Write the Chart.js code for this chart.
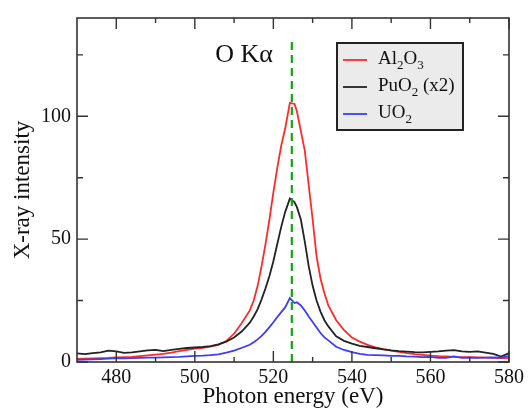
<!DOCTYPE html>
<html>
<head>
<meta charset="utf-8">
<script src="https://cdn.jsdelivr.net/npm/chart.js@4.4.1/dist/chart.umd.min.js"></script>
<style>
html,body{margin:0;padding:0;background:#fff;}
#wrap{width:528px;height:408px;position:relative;}
</style>
</head>
<body>
<div id="wrap"><canvas id="c"></canvas></div>
<script>
// ---- data ----
const energy = [470,472,474,476,478,480,482,484,486,488,490,492,494,496,498,500,502,504,506,508,
  510,512,514,515,516,517,518,519,520,521,522,523,524.2,525.4,526,527,528,529,530,531,532,533,534,
  536,538,540,542,544,546,548,550,552,554,556,558,560,562,564,566,568,570,572,574,576,578,580];
const al2o3 = [1.3,1.4,1.5,1.6,1.7,1.9,2.0,2.1,2.4,2.7,3.0,3.3,3.8,4.4,4.9,5.4,5.8,6.3,7.0,8.5,
  11.5,16,21,25,31,39,48,58,69,79,88,95,105.5,105,102,94,86,72,58,43,34,28,23,
  17,13,10,8.3,7.0,6.0,5.2,4.6,4.1,3.6,3.2,2.9,2.6,2.4,2.3,2.1,2.0,2.0,1.9,1.8,1.7,1.6,1.6];
const puo2x2 = [3.5,3.2,3.6,3.9,4.6,4.3,3.7,3.9,4.3,4.7,4.9,4.4,4.9,5.3,5.7,5.9,6.1,6.5,7.2,8.3,
  10,12.5,16,18.5,21.5,25.5,30,35,41,48,55,61,66.5,65,63,58,49,39,31,25,20.5,17,14.5,
  10.5,8.6,7.5,6.6,6.1,5.6,5.1,4.7,4.4,4.2,4.0,3.9,4.1,4.3,4.6,4.8,4.3,4.1,4.3,3.8,3.3,2.2,3.6];
const uo2 = [0.9,1.0,1.1,1.2,1.4,1.6,1.5,1.6,1.7,1.8,1.8,1.9,2.0,2.1,2.3,2.5,2.6,2.8,3.1,3.8,
  4.6,5.8,7.0,8.0,9.2,10.6,12.3,14.2,16.2,18.3,20.3,22.2,26,24,24.3,23,21,18.5,16.3,14,11.8,10,8.8,
  6.2,4.9,4.0,3.3,2.9,2.8,2.7,2.5,2.5,2.3,2.2,2.0,2.1,1.7,1.7,2.3,1.7,1.8,1.7,1.8,1.9,1.8,2.4];
const markerX = [524.7, 524.7];
const markerY = [0, 131];

const xMajorTicks = [480,500,520,540,560,580];
const xMinorTicks = [490,510,530,550,570];
const yMajorTicks = [0,50,100];
const yMinorTicks = [25,75,125];

const seriesNames = ['Al2O3','PuO2 (x2)','UO2'];
// legend text pieces: [text, isSubscript]
const legendParts = [
  [['Al',0],['2',1],['O',0],['3',1]],
  [['PuO',0],['2',1],[' (x2)',0]],
  [['UO',0],['2',1]]
];
const seriesColors = ['#ff2a2a','#222222','#3c3cff'];

const toPts = (xs, ys) => xs.map((x,i)=>({x:x, y:ys[i]}));

const FONT = "'Liberation Serif', 'DejaVu Serif', serif";

const decor = {
  id:'decor',
  afterDatasetsDraw(chart){
    const ctx = chart.ctx, a = chart.chartArea;
    const xs = chart.scales.x, ys = chart.scales.y;
    ctx.save();
    ctx.strokeStyle = '#333';
    ctx.lineWidth = 1.6;
    ctx.strokeRect(a.left, a.top, a.right-a.left, a.bottom-a.top);
    ctx.lineWidth = 1.4;
    ctx.beginPath();
    const xt = (v, len) => { const p = xs.getPixelForValue(v);
      ctx.moveTo(p, a.bottom); ctx.lineTo(p, a.bottom-len);
      ctx.moveTo(p, a.top); ctx.lineTo(p, a.top+len); };
    const yt = (v, len) => { const p = ys.getPixelForValue(v);
      ctx.moveTo(a.left, p); ctx.lineTo(a.left+len, p);
      ctx.moveTo(a.right, p); ctx.lineTo(a.right-len, p); };
    xMajorTicks.forEach(v=>xt(v,11)); xMinorTicks.forEach(v=>xt(v,5));
    yMajorTicks.forEach(v=>yt(v,11)); yMinorTicks.forEach(v=>yt(v,6));
    ctx.stroke();

    // annotation
    ctx.fillStyle = '#111';
    ctx.font = '26px ' + FONT;
    ctx.textAlign = 'center';
    ctx.textBaseline = 'alphabetic';
    ctx.fillText('O K\u03B1', 244, 62);

    // legend box
    const lx = 337, ly = 43, lw = 126, lh = 87;
    ctx.fillStyle = '#ebebeb';
    ctx.fillRect(lx, ly, lw, lh);
    ctx.strokeStyle = '#222';
    ctx.lineWidth = 2;
    ctx.strokeRect(lx, ly, lw, lh);
    ctx.textAlign = 'left';
    legendParts.forEach((parts, i) => {
      const base = 64 + i*27;
      ctx.strokeStyle = seriesColors[i];
      ctx.lineWidth = 1.8;
      ctx.beginPath(); ctx.moveTo(343, base-4); ctx.lineTo(367, base-4); ctx.stroke();
      let x = 378;
      ctx.fillStyle = '#111';
      parts.forEach(([t, sub]) => {
        ctx.font = (sub ? '13px ' : '19px ') + FONT;
        ctx.fillText(t, x, sub ? base+5 : base);
        x += ctx.measureText(t).width;
      });
    });
    ctx.restore();
  }
};

new Chart(document.getElementById('c'), {
  type:'line',
  data:{
    datasets:[
      {label:'marker', data:toPts(markerX, markerY), borderColor:'#17a317', borderWidth:2.2,
       borderDash:[8,5], pointRadius:0, order:0},
      {label:seriesNames[0], data:toPts(energy, al2o3), borderColor:seriesColors[0], borderWidth:1.8, pointRadius:0, order:3},
      {label:seriesNames[1], data:toPts(energy, puo2x2), borderColor:seriesColors[1], borderWidth:1.8, pointRadius:0, order:2},
      {label:seriesNames[2], data:toPts(energy, uo2), borderColor:seriesColors[2], borderWidth:1.8, pointRadius:0, order:1}
    ]
  },
  options:{
    responsive:true, maintainAspectRatio:false, animation:false,
    layout:{padding:{left:0, right:17, top:14, bottom:0}},
    plugins:{legend:{display:false}, tooltip:{enabled:false}},
    elements:{line:{tension:0, fill:false}},
    scales:{
      x:{type:'linear', min:470, max:580,
        afterBuildTicks:s=>{ s.ticks = xMajorTicks.map(v=>({value:v})); },
        afterFit:s=>{ s.height = 46; },
        grid:{display:false, drawTicks:false}, border:{display:false},
        ticks:{color:'#111', padding:4, maxRotation:0, font:{family:FONT, size:20}},
        title:{display:true, text:'Photon energy (eV)', color:'#111',
          font:{family:FONT, size:23, lineHeight:1}, padding:{top:0, bottom:0}}
      },
      y:{type:'linear', min:0, max:140,
        afterBuildTicks:s=>{ s.ticks = yMajorTicks.map(v=>({value:v})); },
        afterFit:s=>{ s.width = 77; },
        grid:{display:false, drawTicks:false}, border:{display:false},
        ticks:{color:'#111', padding:6, font:{family:FONT, size:20}},
        title:{display:true, text:'X-ray intensity', color:'#111',
          font:{family:FONT, size:23, lineHeight:1}, padding:{top:11, bottom:0}}
      }
    }
  },
  plugins:[decor]
});
</script>
</body>
</html>
